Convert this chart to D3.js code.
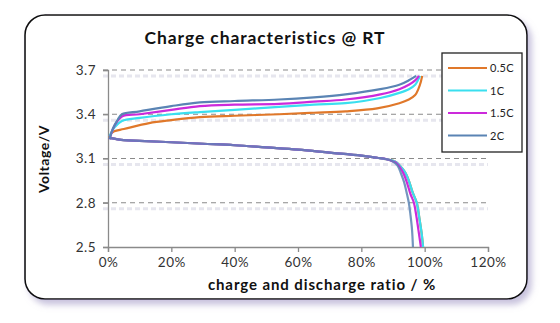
<!DOCTYPE html>
<html><head><meta charset="utf-8">
<script src="https://cdn.jsdelivr.net/npm/d3@7"></script>
<style>body{margin:0;background:#fff;}svg{display:block;}</style>
</head><body>
<script>
// ---- data ----
const seriesNames = ["0.5C", "1C", "1.5C", "2C"];
const seriesColors = ["#E0782A", "#3ADFEF", "#CC2ADB", "#5A84B4"];
const xTicks = [0, 20, 40, 60, 80, 100, 120];
const yTicks = [2.5, 2.8, 3.1, 3.4, 3.7];

// charge curves [ratio %, voltage V]
const charge05C = [[0.5,3.24],[1,3.27],[2,3.285],[5,3.30],[13,3.34],[20,3.36],[29,3.38],[40,3.39],[54,3.40],[65,3.41],[75,3.42],[85,3.44],[92,3.475],[95,3.50],[97,3.53],[98,3.57],[98.8,3.62],[99.2,3.66]];
const charge1C = [[0.5,3.25],[2,3.31],[4.4,3.355],[10,3.375],[20,3.40],[29,3.415],[40,3.43],[54,3.45],[65,3.465],[75,3.475],[86,3.51],[92,3.545],[95,3.57],[97,3.60],[98.5,3.66]];
const charge15C = [[0.5,3.23],[2,3.32],[4.4,3.385],[10,3.40],[20,3.43],[29,3.455],[40,3.465],[54,3.47],[65,3.485],[75,3.50],[86,3.535],[92,3.57],[95,3.60],[97,3.63],[98.2,3.66]];
const charge2C = [[0.5,3.23],[1.5,3.30],[3,3.36],[4.4,3.40],[10,3.42],[20,3.455],[29,3.48],[40,3.49],[54,3.50],[65,3.515],[75,3.535],[86,3.57],[92,3.60],[95,3.63],[97.3,3.66]];

// discharge curves
const discharge05C = [[0.5,3.24],[5,3.225],[10,3.22],[20,3.21],[30,3.20],[40,3.19],[50,3.175],[60,3.16],[70,3.14],[80,3.12],[85,3.105],[88,3.095],[90,3.085],[91,3.075],[93,3.03],[94,3.0],[95,2.95],[96.2,2.87],[97.5,2.80],[98.3,2.70],[99,2.6],[99.5,2.5]];
const discharge1C = [[0.5,3.24],[5,3.225],[10,3.22],[20,3.21],[30,3.20],[40,3.19],[50,3.175],[60,3.16],[70,3.14],[80,3.12],[85,3.105],[88,3.095],[90,3.085],[91,3.075],[93,3.03],[94,3.0],[95,2.95],[96.2,2.87],[97.5,2.80],[98.3,2.70],[99,2.6],[99.5,2.5]];
const discharge15C = [[0.5,3.24],[5,3.225],[10,3.22],[20,3.21],[30,3.20],[40,3.19],[50,3.175],[60,3.16],[70,3.14],[80,3.12],[85,3.105],[88,3.095],[90,3.08],[91,3.07],[92.5,3.03],[93.5,2.99],[94.5,2.93],[95.5,2.86],[96.6,2.80],[97.3,2.72],[98,2.62],[98.8,2.5]];
const discharge2C = [[0.5,3.24],[5,3.225],[10,3.22],[20,3.21],[30,3.20],[40,3.19],[50,3.175],[60,3.16],[70,3.14],[80,3.12],[85,3.105],[88,3.095],[90,3.08],[91.5,3.05],[92.5,3.0],[93.5,2.94],[94.3,2.87],[95,2.80],[95.5,2.72],[96,2.62],[96.3,2.5]];

const chargeSeries = [charge05C, charge1C, charge15C, charge2C];
const dischargeSeries = [discharge05C, discharge1C, discharge15C, discharge2C];

// ---- layout ----
const W = 560, H = 323;
const svg = d3.select("body").append("svg").attr("width", W).attr("height", H);
const defs = svg.append("defs");
const f = defs.append("filter").attr("id","sh").attr("x","-10%").attr("y","-10%").attr("width","130%").attr("height","130%");
f.append("feDropShadow").attr("dx",4).attr("dy",5).attr("stdDeviation",3).attr("flood-color","#9a90c0").attr("flood-opacity",0.55);

svg.append("rect").attr("x",25).attr("y",15).attr("width",502).attr("height",284)
  .attr("rx",20).attr("ry",20).attr("fill","#fff").attr("stroke","#111").attr("stroke-width",1.6)
  .attr("filter","url(#sh)");

const x = d3.scaleLinear().domain([0,120]).range([108,488]);
const y = d3.scaleLinear().domain([2.5,3.7]).range([247,70]);

const font = "Lato, 'Open Sans', sans-serif";

// title
svg.append("text").attr("x",265).attr("y",44).attr("text-anchor","middle")
  .attr("font-family",font).attr("font-weight","bold").attr("font-size",17.5)
  .attr("letter-spacing",0.9).attr("fill","#111")
  .text("Charge characteristics @ RT");

// gridlines with faint shadow band
const grid = svg.append("g");
yTicks.filter(d=>d>2.5).forEach(v=>{
  grid.append("line").attr("x1",103).attr("x2",488).attr("y1",y(v)+6).attr("y2",y(v)+6)
    .attr("stroke","#e6e6ee").attr("stroke-width",3).attr("stroke-dasharray","5,3");
  grid.append("line").attr("x1",103).attr("x2",488).attr("y1",y(v)).attr("y2",y(v))
    .attr("stroke","#8a8a8a").attr("stroke-width",1.2).attr("stroke-dasharray","5,4");
});

// axes
const yAxis = svg.append("g").attr("transform","translate(108,0)")
  .call(d3.axisLeft(y).tickValues(yTicks).tickSize(5).tickFormat(d3.format(".1f")));
const xAxis = svg.append("g").attr("transform","translate(0,247)")
  .call(d3.axisBottom(x).tickValues(xTicks).tickSize(5).tickFormat(d=>d+"%"));
[yAxis,xAxis].forEach(a=>{
  a.select(".domain").attr("stroke","#8a8a8a").attr("stroke-width",1.3);
  a.selectAll(".tick line").attr("stroke","#8a8a8a").attr("stroke-width",1.3);
  a.selectAll("text").attr("font-family",font).attr("font-size",13.5).attr("letter-spacing",0.5).attr("fill","#333");
});
yAxis.selectAll("text").attr("x",-12);
xAxis.selectAll("text").attr("y",6).attr("dy","1.05em");

// axis titles
svg.append("text").attr("transform","translate(49,159) rotate(-90)").attr("text-anchor","middle")
  .attr("font-family",font).attr("font-weight","bold").attr("font-size",14).attr("letter-spacing",0.5).attr("fill","#111")
  .text("Voltage/V");
svg.append("text").attr("x",322).attr("y",290).attr("text-anchor","middle")
  .attr("font-family",font).attr("font-weight","bold").attr("font-size",15).attr("letter-spacing",0.9).attr("fill","#111")
  .text("charge and discharge ratio / %");

// lines
const lineD = d3.line().x(d=>x(d[0])).y(d=>y(d[1])).curve(d3.curveCatmullRom);
const lg = svg.append("g");
dischargeSeries.forEach((s,i)=>{
  lg.append("path").attr("d",lineD(s)).attr("fill","none").attr("stroke",seriesColors[i])
    .attr("stroke-width",2.2).attr("stroke-opacity", i===3?0.85:1);
});
chargeSeries.forEach((s,i)=>{
  lg.append("path").attr("d",lineD(s)).attr("fill","none").attr("stroke",seriesColors[i])
    .attr("stroke-width",2.2);
});

// legend
const leg = svg.append("g");
leg.append("rect").attr("x",442).attr("y",53).attr("width",80).attr("height",99)
  .attr("fill","#fff").attr("stroke","#222").attr("stroke-width",1.3);
seriesNames.forEach((n,i)=>{
  const yy = 68 + i*22.5;
  leg.append("line").attr("x1",448).attr("x2",487).attr("y1",yy).attr("y2",yy)
    .attr("stroke",seriesColors[i]).attr("stroke-width",2);
  leg.append("text").attr("x",490).attr("y",yy+4).attr("font-family",font).attr("font-size",11)
    .attr("letter-spacing",0.3).attr("fill","#222").text(n);
});
</script>
</body></html>
